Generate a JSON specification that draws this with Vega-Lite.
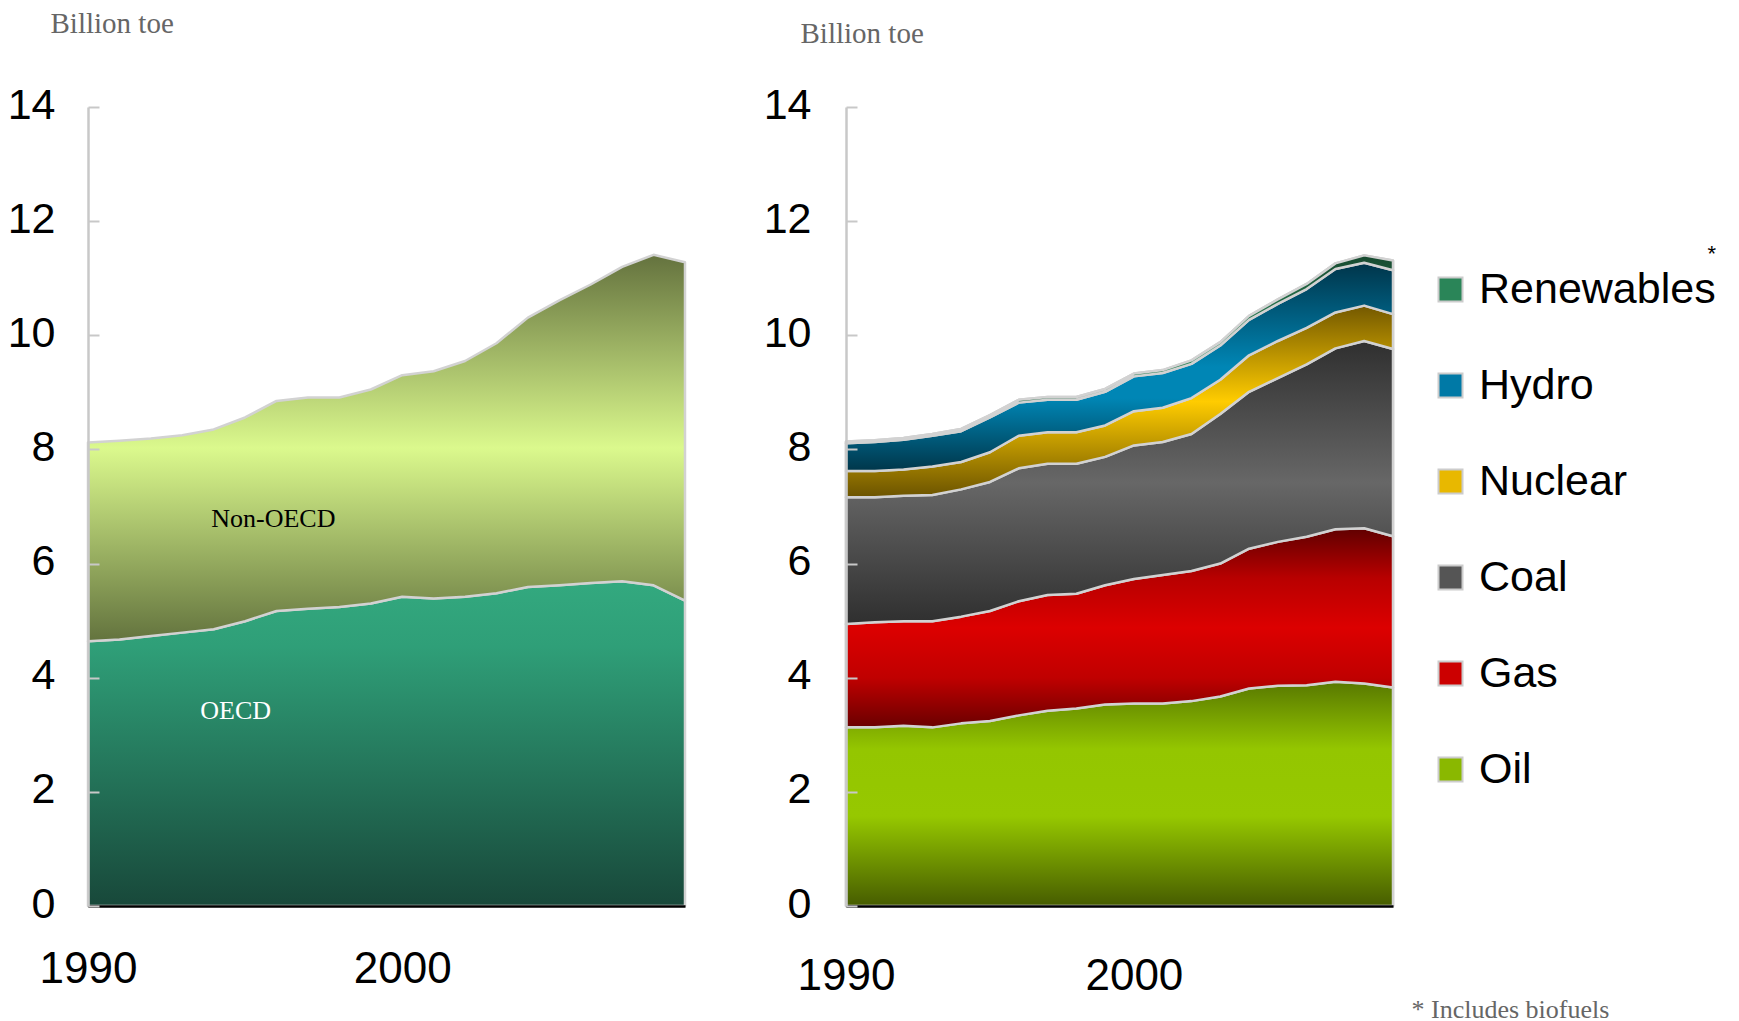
{
  "$schema": "https://vega.github.io/schema/vega-lite/v6.json",
  "background": "white",
  "padding": {"left": 7, "top": 9, "right": 0, "bottom": 0},
  "spacing": 76,
  "config": {
    "view": {"stroke": null},
    "axis": {"grid": false, "labelFlush": false, "labelOverlap": false, "labelColor": "#000000", "labelFont": "Liberation Sans", "titleFontWeight": "normal"}
  },
  "datasets": {
    "region": [
      {"year": 1990, "region": "OECD", "value": 4.64}, {"year": 1991, "region": "OECD", "value": 4.67},
      {"year": 1992, "region": "OECD", "value": 4.73}, {"year": 1993, "region": "OECD", "value": 4.79},
      {"year": 1994, "region": "OECD", "value": 4.85}, {"year": 1995, "region": "OECD", "value": 4.99},
      {"year": 1996, "region": "OECD", "value": 5.17}, {"year": 1997, "region": "OECD", "value": 5.21},
      {"year": 1998, "region": "OECD", "value": 5.24}, {"year": 1999, "region": "OECD", "value": 5.30},
      {"year": 2000, "region": "OECD", "value": 5.42}, {"year": 2001, "region": "OECD", "value": 5.39},
      {"year": 2002, "region": "OECD", "value": 5.42}, {"year": 2003, "region": "OECD", "value": 5.48},
      {"year": 2004, "region": "OECD", "value": 5.59}, {"year": 2005, "region": "OECD", "value": 5.62},
      {"year": 2006, "region": "OECD", "value": 5.66}, {"year": 2007, "region": "OECD", "value": 5.69},
      {"year": 2008, "region": "OECD", "value": 5.62}, {"year": 2009, "region": "OECD", "value": 5.35},
      {"year": 1990, "region": "Non-OECD", "value": 3.48}, {"year": 1991, "region": "Non-OECD", "value": 3.48},
      {"year": 1992, "region": "Non-OECD", "value": 3.46}, {"year": 1993, "region": "Non-OECD", "value": 3.46},
      {"year": 1994, "region": "Non-OECD", "value": 3.50}, {"year": 1995, "region": "Non-OECD", "value": 3.57},
      {"year": 1996, "region": "Non-OECD", "value": 3.68}, {"year": 1997, "region": "Non-OECD", "value": 3.70},
      {"year": 1998, "region": "Non-OECD", "value": 3.67}, {"year": 1999, "region": "Non-OECD", "value": 3.75},
      {"year": 2000, "region": "Non-OECD", "value": 3.88}, {"year": 2001, "region": "Non-OECD", "value": 3.98},
      {"year": 2002, "region": "Non-OECD", "value": 4.13}, {"year": 2003, "region": "Non-OECD", "value": 4.38},
      {"year": 2004, "region": "Non-OECD", "value": 4.72}, {"year": 2005, "region": "Non-OECD", "value": 4.99},
      {"year": 2006, "region": "Non-OECD", "value": 5.23}, {"year": 2007, "region": "Non-OECD", "value": 5.51},
      {"year": 2008, "region": "Non-OECD", "value": 5.79}, {"year": 2009, "region": "Non-OECD", "value": 5.93}
    ],
    "fuels": [
      {"fuel": "Oil", "rank": 1}, {"fuel": "Gas", "rank": 2}, {"fuel": "Coal", "rank": 3},
      {"fuel": "Nuclear", "rank": 4}, {"fuel": "Hydro", "rank": 5}, {"fuel": "Renewables", "rank": 6}
    ],
    "fuel": [
      {"year": 1990, "fuel": "Oil", "value": 3.13}, {"year": 1991, "fuel": "Oil", "value": 3.13},
      {"year": 1992, "fuel": "Oil", "value": 3.16}, {"year": 1993, "fuel": "Oil", "value": 3.13},
      {"year": 1994, "fuel": "Oil", "value": 3.20}, {"year": 1995, "fuel": "Oil", "value": 3.24},
      {"year": 1996, "fuel": "Oil", "value": 3.34}, {"year": 1997, "fuel": "Oil", "value": 3.42},
      {"year": 1998, "fuel": "Oil", "value": 3.46}, {"year": 1999, "fuel": "Oil", "value": 3.53},
      {"year": 2000, "fuel": "Oil", "value": 3.55}, {"year": 2001, "fuel": "Oil", "value": 3.55},
      {"year": 2002, "fuel": "Oil", "value": 3.59}, {"year": 2003, "fuel": "Oil", "value": 3.67},
      {"year": 2004, "fuel": "Oil", "value": 3.81}, {"year": 2005, "fuel": "Oil", "value": 3.86},
      {"year": 2006, "fuel": "Oil", "value": 3.87}, {"year": 2007, "fuel": "Oil", "value": 3.93},
      {"year": 2008, "fuel": "Oil", "value": 3.90}, {"year": 2009, "fuel": "Oil", "value": 3.83},
      {"year": 1990, "fuel": "Gas", "value": 1.81}, {"year": 1991, "fuel": "Gas", "value": 1.84},
      {"year": 1992, "fuel": "Gas", "value": 1.83}, {"year": 1993, "fuel": "Gas", "value": 1.86},
      {"year": 1994, "fuel": "Gas", "value": 1.87}, {"year": 1995, "fuel": "Gas", "value": 1.93},
      {"year": 1996, "fuel": "Gas", "value": 2.00}, {"year": 1997, "fuel": "Gas", "value": 2.03},
      {"year": 1998, "fuel": "Gas", "value": 2.01}, {"year": 1999, "fuel": "Gas", "value": 2.09},
      {"year": 2000, "fuel": "Gas", "value": 2.18}, {"year": 2001, "fuel": "Gas", "value": 2.25},
      {"year": 2002, "fuel": "Gas", "value": 2.28}, {"year": 2003, "fuel": "Gas", "value": 2.33},
      {"year": 2004, "fuel": "Gas", "value": 2.45}, {"year": 2005, "fuel": "Gas", "value": 2.52},
      {"year": 2006, "fuel": "Gas", "value": 2.60}, {"year": 2007, "fuel": "Gas", "value": 2.67},
      {"year": 2008, "fuel": "Gas", "value": 2.72}, {"year": 2009, "fuel": "Gas", "value": 2.65},
      {"year": 1990, "fuel": "Coal", "value": 2.22}, {"year": 1991, "fuel": "Coal", "value": 2.19},
      {"year": 1992, "fuel": "Coal", "value": 2.20}, {"year": 1993, "fuel": "Coal", "value": 2.21},
      {"year": 1994, "fuel": "Coal", "value": 2.23}, {"year": 1995, "fuel": "Coal", "value": 2.26},
      {"year": 1996, "fuel": "Coal", "value": 2.33}, {"year": 1997, "fuel": "Coal", "value": 2.30},
      {"year": 1998, "fuel": "Coal", "value": 2.28}, {"year": 1999, "fuel": "Coal", "value": 2.25},
      {"year": 2000, "fuel": "Coal", "value": 2.34}, {"year": 2001, "fuel": "Coal", "value": 2.33},
      {"year": 2002, "fuel": "Coal", "value": 2.40}, {"year": 2003, "fuel": "Coal", "value": 2.62},
      {"year": 2004, "fuel": "Coal", "value": 2.75}, {"year": 2005, "fuel": "Coal", "value": 2.87},
      {"year": 2006, "fuel": "Coal", "value": 3.02}, {"year": 2007, "fuel": "Coal", "value": 3.17},
      {"year": 2008, "fuel": "Coal", "value": 3.28}, {"year": 2009, "fuel": "Coal", "value": 3.28},
      {"year": 1990, "fuel": "Nuclear", "value": 0.46}, {"year": 1991, "fuel": "Nuclear", "value": 0.46},
      {"year": 1992, "fuel": "Nuclear", "value": 0.46}, {"year": 1993, "fuel": "Nuclear", "value": 0.50},
      {"year": 1994, "fuel": "Nuclear", "value": 0.48}, {"year": 1995, "fuel": "Nuclear", "value": 0.52},
      {"year": 1996, "fuel": "Nuclear", "value": 0.57}, {"year": 1997, "fuel": "Nuclear", "value": 0.55},
      {"year": 1998, "fuel": "Nuclear", "value": 0.55}, {"year": 1999, "fuel": "Nuclear", "value": 0.55},
      {"year": 2000, "fuel": "Nuclear", "value": 0.60}, {"year": 2001, "fuel": "Nuclear", "value": 0.60},
      {"year": 2002, "fuel": "Nuclear", "value": 0.63}, {"year": 2003, "fuel": "Nuclear", "value": 0.60},
      {"year": 2004, "fuel": "Nuclear", "value": 0.64}, {"year": 2005, "fuel": "Nuclear", "value": 0.65},
      {"year": 2006, "fuel": "Nuclear", "value": 0.64}, {"year": 2007, "fuel": "Nuclear", "value": 0.63},
      {"year": 2008, "fuel": "Nuclear", "value": 0.62}, {"year": 2009, "fuel": "Nuclear", "value": 0.61},
      {"year": 1990, "fuel": "Hydro", "value": 0.49}, {"year": 1991, "fuel": "Hydro", "value": 0.51},
      {"year": 1992, "fuel": "Hydro", "value": 0.52}, {"year": 1993, "fuel": "Hydro", "value": 0.54},
      {"year": 1994, "fuel": "Hydro", "value": 0.54}, {"year": 1995, "fuel": "Hydro", "value": 0.61},
      {"year": 1996, "fuel": "Hydro", "value": 0.58}, {"year": 1997, "fuel": "Hydro", "value": 0.57},
      {"year": 1998, "fuel": "Hydro", "value": 0.57}, {"year": 1999, "fuel": "Hydro", "value": 0.59},
      {"year": 2000, "fuel": "Hydro", "value": 0.61}, {"year": 2001, "fuel": "Hydro", "value": 0.61},
      {"year": 2002, "fuel": "Hydro", "value": 0.60}, {"year": 2003, "fuel": "Hydro", "value": 0.60},
      {"year": 2004, "fuel": "Hydro", "value": 0.62}, {"year": 2005, "fuel": "Hydro", "value": 0.65},
      {"year": 2006, "fuel": "Hydro", "value": 0.68}, {"year": 2007, "fuel": "Hydro", "value": 0.76},
      {"year": 2008, "fuel": "Hydro", "value": 0.75}, {"year": 2009, "fuel": "Hydro", "value": 0.77},
      {"year": 1990, "fuel": "Renewables", "value": 0.03}, {"year": 1991, "fuel": "Renewables", "value": 0.03},
      {"year": 1992, "fuel": "Renewables", "value": 0.03}, {"year": 1993, "fuel": "Renewables", "value": 0.03},
      {"year": 1994, "fuel": "Renewables", "value": 0.04}, {"year": 1995, "fuel": "Renewables", "value": 0.04},
      {"year": 1996, "fuel": "Renewables", "value": 0.05}, {"year": 1997, "fuel": "Renewables", "value": 0.05},
      {"year": 1998, "fuel": "Renewables", "value": 0.05}, {"year": 1999, "fuel": "Renewables", "value": 0.05},
      {"year": 2000, "fuel": "Renewables", "value": 0.05}, {"year": 2001, "fuel": "Renewables", "value": 0.05},
      {"year": 2002, "fuel": "Renewables", "value": 0.06}, {"year": 2003, "fuel": "Renewables", "value": 0.06},
      {"year": 2004, "fuel": "Renewables", "value": 0.07}, {"year": 2005, "fuel": "Renewables", "value": 0.08},
      {"year": 2006, "fuel": "Renewables", "value": 0.09}, {"year": 2007, "fuel": "Renewables", "value": 0.10},
      {"year": 2008, "fuel": "Renewables", "value": 0.13}, {"year": 2009, "fuel": "Renewables", "value": 0.17}
    ]
  },
  "hconcat": [
    {
      "width": 597,
      "height": 799,
      "layer": [
        {
          "data": {"name": "region"},
          "transform": [
            {"stack": "value", "groupby": ["year"], "sort": [{"field": "region", "order": "descending"}], "as": ["lo", "hi"]}
          ],
          "encoding": {
            "x": {
              "field": "year", "type": "quantitative",
              "scale": {"domain": [1990, 2009], "nice": false, "zero": false},
              "axis": {"values": [1990, 2000], "format": "d", "ticks": false, "domainColor": "#000000", "domainWidth": 2.5, "labelFontSize": 44, "labelPadding": 41, "title": null, "zindex": 1}
            },
            "y": {
              "field": "hi", "type": "quantitative", "stack": null,
              "scale": {"domain": [0, 14], "nice": false},
              "axis": {
                "values": [0, 2, 4, 6, 8, 10, 12, 14], "format": "d", "domainColor": "#c8c8c8", "domainWidth": 2.5,
                "tickColor": "#c8c8c8", "tickWidth": 2, "tickSize": -11,
                "labelFontSize": 43, "labelPadding": 44, "labelOffset": -2, "minExtent": 80, "maxExtent": 88,
                "title": "Billion toe", "titleAngle": 0, "titleAlign": "left", "titleBaseline": "middle",
                "titleX": -38, "titleY": -84, "titleFont": "Liberation Serif", "titleFontSize": 29, "titleColor": "#666666",
                "zindex": 1
              }
            },
            "y2": {"field": "lo"}
          },
          "layer": [
            {
              "transform": [{"filter": "datum.region === 'OECD'"}],
              "mark": {
                "type": "area", "stroke": "#d2d2d2", "strokeWidth": 2.5, "strokeJoin": "round",
                "fill": {"gradient": "linear", "x1": 0, "y1": 0, "x2": 0, "y2": 1,
                  "stops": [{"offset": 0, "color": "#33a97f"}, {"offset": 0.2, "color": "#2f9f78"}, {"offset": 1, "color": "#18483a"}]}
              }
            },
            {
              "transform": [{"filter": "datum.region === 'Non-OECD'"}],
              "mark": {
                "type": "area", "stroke": "#d2d2d2", "strokeWidth": 2.5, "strokeJoin": "round",
                "fill": {"gradient": "linear", "x1": 0, "y1": 0, "x2": 0, "y2": 1,
                  "stops": [{"offset": 0, "color": "#64723e"}, {"offset": 0.5, "color": "#dbf98d"}, {"offset": 1, "color": "#63733e"}]}
              }
            }
          ]
        },
        {
          "data": {"values": [{"label": "Non-OECD"}]},
          "mark": {"type": "text", "font": "Liberation Serif", "fontSize": 26, "color": "#000000"},
          "encoding": {
            "x": {"datum": 1995.9, "type": "quantitative"},
            "y": {"datum": 6.78, "type": "quantitative"},
            "text": {"field": "label"}
          }
        },
        {
          "data": {"values": [{"label": "OECD"}]},
          "mark": {"type": "text", "font": "Liberation Serif", "fontSize": 26, "color": "#ffffff"},
          "encoding": {
            "x": {"datum": 1994.7, "type": "quantitative"},
            "y": {"datum": 3.42, "type": "quantitative"},
            "text": {"field": "label"}
          }
        }
      ]
    },
    {
      "width": 547,
      "height": 799,
      "data": {"name": "fuel"},
      "transform": [
        {"lookup": "fuel", "from": {"data": {"name": "fuels"}, "key": "fuel", "fields": ["rank"]}},
        {"stack": "value", "groupby": ["year"], "sort": [{"field": "rank", "order": "ascending"}], "as": ["lo", "hi"]}
      ],
      "encoding": {
        "x": {
          "field": "year", "type": "quantitative",
          "scale": {"domain": [1990, 2009], "nice": false, "zero": false},
          "axis": {
            "values": [1990, 2000], "format": "d", "ticks": false, "domainColor": "#000000", "domainWidth": 2.5,
            "labelFontSize": 44, "labelPadding": 48, "zindex": 1,
            "title": "* Includes biofuels", "titleX": 565, "titleY": 103, "titleAlign": "left", "titleBaseline": "middle",
            "titleFont": "Liberation Serif", "titleFontSize": 26, "titleColor": "#666666"
          }
        },
        "y": {
          "field": "hi", "type": "quantitative", "stack": null,
          "scale": {"domain": [0, 14], "nice": false},
          "axis": {
            "values": [0, 2, 4, 6, 8, 10, 12, 14], "format": "d", "domainColor": "#c8c8c8", "domainWidth": 2.5,
            "tickColor": "#c8c8c8", "tickWidth": 2, "tickSize": -11,
            "labelFontSize": 43, "labelPadding": 46, "labelOffset": -2, "minExtent": 80, "maxExtent": 86,
            "title": "Billion toe", "titleAngle": 0, "titleAlign": "left", "titleBaseline": "middle",
            "titleX": -46, "titleY": -74, "titleFont": "Liberation Serif", "titleFontSize": 29, "titleColor": "#666666",
            "zindex": 1
          }
        },
        "y2": {"field": "lo"}
      },
      "layer": [
        {
          "mark": {"type": "area", "stroke": "#cccccc", "strokeWidth": 2.5, "strokeJoin": "round"},
          "encoding": {
            "color": {
              "field": "fuel", "type": "nominal",
              "scale": {
                "domain": ["Renewables", "Hydro", "Nuclear", "Coal", "Gas", "Oil"],
                "range": ["#2a8558", "#0079a6", "#e8b800", "#555555", "#cc0000", "#8ab800"]
              },
              "legend": {
                "orient": "none", "legendX": 1341, "legendY": 137, "direction": "vertical", "padding": 0,
                "title": "*", "titleAnchor": "end", "titleFont": "Liberation Sans", "titleFontSize": 22,
                "titleFontWeight": "normal", "titleColor": "#000000", "titlePadding": 2,
                "symbolType": "square", "symbolSize": 576, "symbolStrokeWidth": 2,
                "labelFont": "Liberation Sans", "labelFontSize": 43, "labelColor": "#000000",
                "labelOffset": 7, "labelLimit": 400, "rowPadding": 52
              }
            }
          }
        },
        {
          "transform": [{"filter": "datum.fuel === 'Oil'"}],
          "mark": {
            "type": "area", "stroke": "#d2d2d2", "strokeWidth": 2.5, "strokeJoin": "round",
            "fill": {"gradient": "linear", "x1": 0, "y1": 0, "x2": 0, "y2": 1,
              "stops": [{"offset": 0, "color": "#587800"}, {"offset": 0.3, "color": "#94c600"}, {"offset": 0.6, "color": "#96c800"}, {"offset": 1, "color": "#465c00"}]}
          }
        },
        {
          "transform": [{"filter": "datum.fuel === 'Gas'"}],
          "mark": {
            "type": "area", "stroke": "#d2d2d2", "strokeWidth": 2.5, "strokeJoin": "round",
            "fill": {"gradient": "linear", "x1": 0, "y1": 0, "x2": 0, "y2": 1,
              "stops": [{"offset": 0, "color": "#600000"}, {"offset": 0.25, "color": "#b80000"}, {"offset": 0.5, "color": "#dc0000"}, {"offset": 0.75, "color": "#c00000"}, {"offset": 1, "color": "#6a0000"}]}
          }
        },
        {
          "transform": [{"filter": "datum.fuel === 'Coal'"}],
          "mark": {
            "type": "area", "stroke": "#d2d2d2", "strokeWidth": 2.5, "strokeJoin": "round",
            "fill": {"gradient": "linear", "x1": 0, "y1": 0, "x2": 0, "y2": 1,
              "stops": [{"offset": 0, "color": "#2f2f2f"}, {"offset": 0.5, "color": "#676767"}, {"offset": 1, "color": "#2f2f2f"}]}
          }
        },
        {
          "transform": [{"filter": "datum.fuel === 'Nuclear'"}],
          "mark": {
            "type": "area", "stroke": "#d2d2d2", "strokeWidth": 2.5, "strokeJoin": "round",
            "fill": {"gradient": "linear", "x1": 0, "y1": 0, "x2": 0, "y2": 1,
              "stops": [{"offset": 0, "color": "#735800"}, {"offset": 0.5, "color": "#ffcc00"}, {"offset": 1, "color": "#6b5300"}]}
          }
        },
        {
          "transform": [{"filter": "datum.fuel === 'Hydro'"}],
          "mark": {
            "type": "area", "stroke": "#d2d2d2", "strokeWidth": 2.5, "strokeJoin": "round",
            "fill": {"gradient": "linear", "x1": 0, "y1": 0, "x2": 0, "y2": 1,
              "stops": [{"offset": 0, "color": "#00354a"}, {"offset": 0.5, "color": "#0086b5"}, {"offset": 0.65, "color": "#0086b5"}, {"offset": 1, "color": "#00364a"}]}
          }
        },
        {
          "transform": [{"filter": "datum.fuel === 'Renewables'"}],
          "mark": {
            "type": "area", "stroke": "#d2d2d2", "strokeWidth": 2.5, "strokeJoin": "round",
            "fill": {"gradient": "linear", "x1": 0, "y1": 0, "x2": 0, "y2": 1,
              "stops": [{"offset": 0, "color": "#184a30"}, {"offset": 0.5, "color": "#2f9060"}, {"offset": 1, "color": "#1c5236"}]}
          }
        }
      ]
    }
  ]
}
